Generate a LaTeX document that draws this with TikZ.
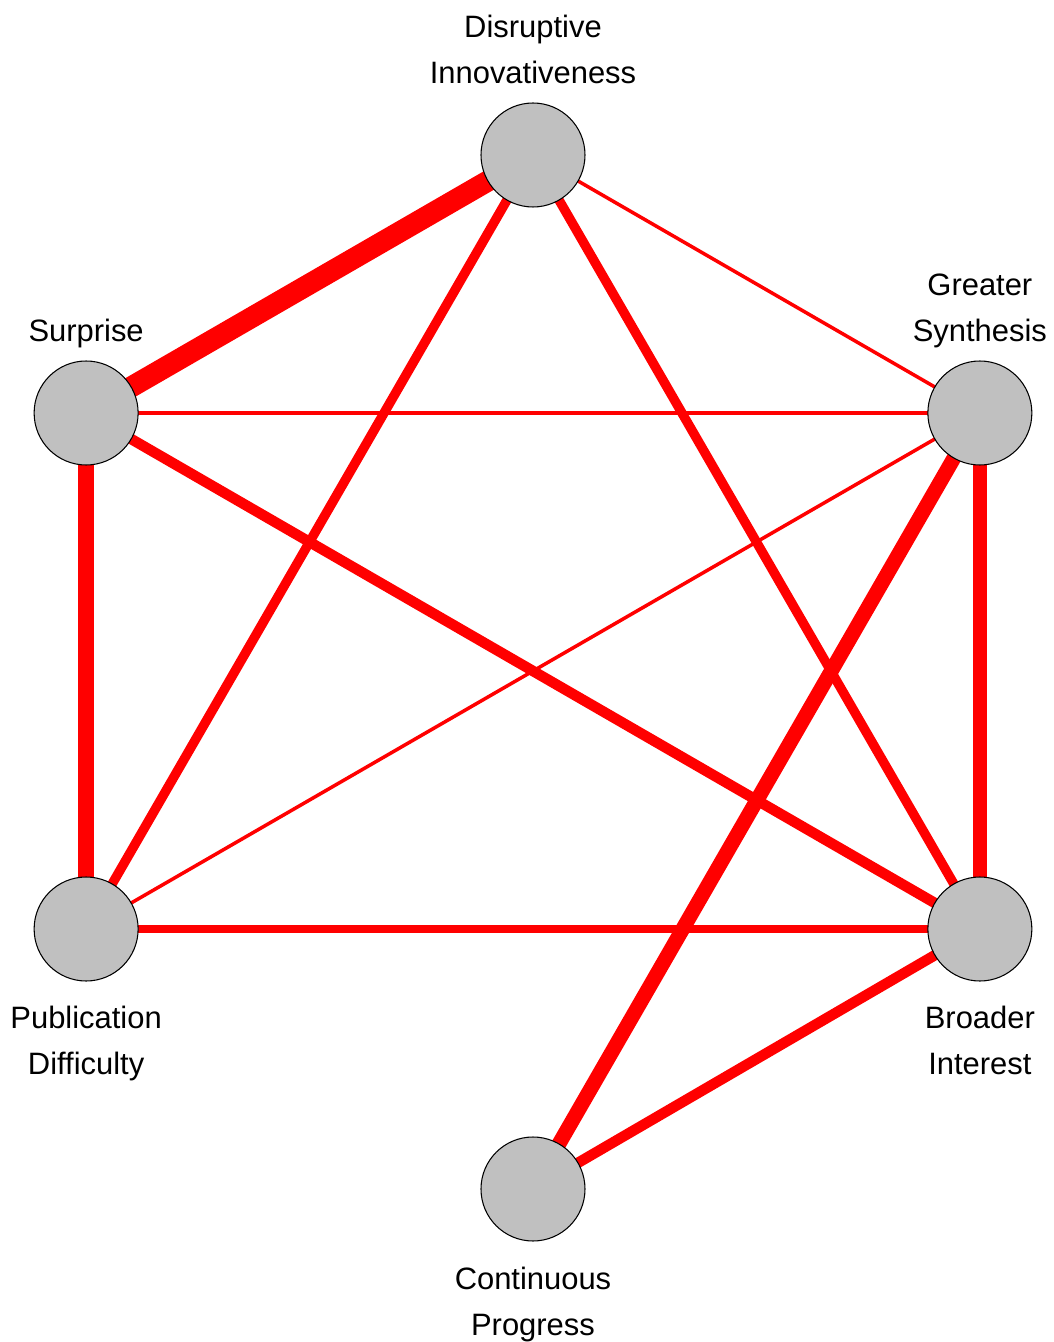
\documentclass[tikz,border=0pt]{standalone}
\usepackage{fontspec}
\setmainfont{Liberation Sans}
\usetikzlibrary{positioning}
\definecolor{nodegray}{RGB}{192,192,192}
\pgfdeclarelayer{background}
\pgfsetlayers{background,main}

\begin{document}
\begin{tikzpicture}[
    factor/.style={circle, draw=black, line width=0.6pt, fill=nodegray, minimum size=2.08cm, inner sep=0pt},
    toplabel/.style={align=center, inner sep=0pt, text depth=0pt, font=\fontsize{17.6}{26.2}\selectfont},
    botlabel/.style={align=center, inner sep=0pt, font=\fontsize{17.6}{26.2}\selectfont},
    link/.style={red, line width=#1}
]
  \useasboundingbox (-10.66,-13.42) rectangle (10.42,13.42);

  % --- Factors on a hexagon ---
  \node[factor] (dis) at (90:10.32) {};
  \node[factor] (sur) at (150:10.32) {};
  \node[factor] (syn) at (30:10.32) {};
  \node[factor] (pub) at (210:10.32) {};
  \node[factor] (bro) at (330:10.32) {};
  \node[factor] (con) at (270:10.36) {};

  % Labels
  \node[toplabel, above=0.38cm of dis] (disL) {Disruptive\\Innovativeness};
  \node[toplabel, above=0.38cm of sur] (surL) {Surprise};
  \node[toplabel, above=0.38cm of syn] (synL) {Greater\\Synthesis};
  \node[botlabel, below=0.48cm of pub] (pubL) {Publication\\Difficulty};
  \node[botlabel, below=0.48cm of bro] (broL) {Broader\\Interest};
  \node[botlabel, below=0.5cm of con] (conL) {Continuous\\Progress};

  % --- Links, width = strength ---
  \begin{pgfonlayer}{background}
    \draw[link=12pt] (dis.center) -- (sur.center);
    \draw[link=2pt] (dis.center) -- (syn.center);
    \draw[link=5.4pt] (dis.center) -- (pub.center);
    \draw[link=5.4pt] (dis.center) -- (bro.center);
    \draw[link=2.7pt] (sur.center) -- (syn.center);
    \draw[link=9pt] (sur.center) -- (pub.center);
    \draw[link=6pt] (sur.center) -- (bro.center);
    \draw[link=2pt] (syn.center) -- (pub.center);
    \draw[link=8pt] (syn.center) -- (bro.center);
    \draw[link=8.4pt] (syn.center) -- (con.center);
    \draw[link=4.3pt] (pub.center) -- (bro.center);
    \draw[link=6pt] (bro.center) -- (con.center);
  \end{pgfonlayer}
\end{tikzpicture}
\end{document}
